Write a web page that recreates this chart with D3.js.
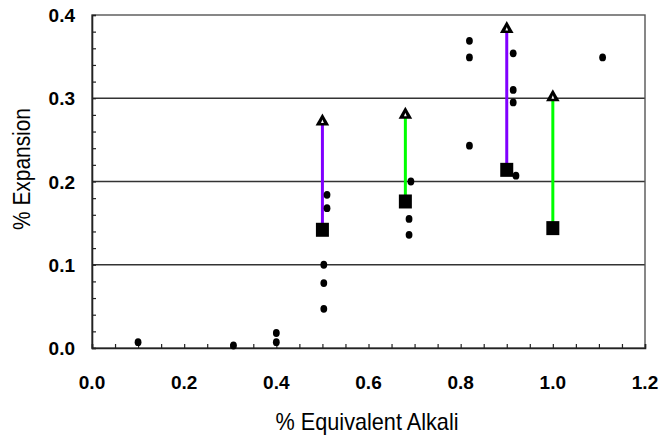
<!DOCTYPE html>
<html><head><meta charset="utf-8">
<script src="https://cdn.jsdelivr.net/npm/d3@7"></script>
<style>body{margin:0;background:#fff;} svg{display:block;}</style>
</head><body>
<svg id="c" width="670" height="435"></svg>
<script>
// Scatter points (circles)
const dotX = [0.10, 0.307, 0.40, 0.40, 0.503, 0.503, 0.503, 0.51, 0.51, 0.692, 0.688, 0.688, 0.819, 0.819, 0.819, 0.914, 0.914, 0.914, 0.92, 1.108];
const dotY = [0.007, 0.003, 0.018, 0.007, 0.100, 0.078, 0.047, 0.184, 0.168, 0.200, 0.155, 0.136, 0.369, 0.349, 0.243, 0.354, 0.310, 0.295, 0.207, 0.349];
// Paired measurements: square (low) -> triangle (high)
const pairX = [0.50, 0.68, 0.90, 1.00];
const pairLow = [0.142, 0.176, 0.214, 0.144];
const pairHigh = [0.274, 0.282, 0.385, 0.303];
const pairColor = ["#8000ff", "#00ff00", "#8000ff", "#00ff00"];
const xTicks = [0.0, 0.2, 0.4, 0.6, 0.8, 1.0, 1.2];
const yTicks = [0.0, 0.1, 0.2, 0.3, 0.4];
const gridY = [0.1, 0.2, 0.3];

const svg = d3.select("#c");
const L = 92, R = 645, T = 15, B = 348;
const x = d3.scaleLinear().domain([0, 1.2]).range([L, R]);
const y = d3.scaleLinear().domain([0, 0.4]).range([B, T]);
const FONT = "Liberation Sans, Arial, sans-serif";

// gridlines
svg.selectAll(".grid").data(gridY).enter().append("line")
  .attr("x1", L).attr("x2", R).attr("y1", d => y(d)).attr("y2", d => y(d))
  .attr("stroke", "#333").attr("stroke-width", 1.4);

// frame
svg.append("rect").attr("x", L).attr("y", T).attr("width", R - L).attr("height", B - T)
  .attr("fill", "none").attr("stroke", "#555").attr("stroke-width", 1.4);

// minor ticks
const xMinor = d3.range(0, 25).map(i => i * 0.05);
const xAxis = d3.axisBottom(x).tickValues(xMinor).tickSize(-4).tickFormat("");
svg.append("g").attr("transform", `translate(0,${B})`).call(xAxis)
  .call(g => { g.select(".domain").attr("stroke", "#222").attr("stroke-width", 1.6); g.selectAll("line").attr("stroke", "#222").attr("stroke-width", 1.2); });
const yMinor = d3.range(0, 21).map(i => i * 0.02);
const yAxis = d3.axisLeft(y).tickValues(yMinor).tickSize(-4).tickFormat("");
svg.append("g").attr("transform", `translate(${L},0)`).call(yAxis)
  .call(g => { g.select(".domain").attr("stroke", "#222").attr("stroke-width", 1.6); g.selectAll("line").attr("stroke", "#222").attr("stroke-width", 1.2); });

// tick labels
svg.selectAll(".xl").data(xTicks).enter().append("text")
  .attr("x", d => x(d)).attr("y", 389).attr("text-anchor", "middle")
  .attr("font-family", FONT).attr("font-weight", "bold").attr("font-size", 19)
  .text(d => d.toFixed(1));
svg.selectAll(".yl").data(yTicks).enter().append("text")
  .attr("x", 75).attr("y", d => y(d) + 7).attr("text-anchor", "end")
  .attr("font-family", FONT).attr("font-weight", "bold").attr("font-size", 19)
  .text(d => d.toFixed(1));

// axis titles (tall, slightly condensed)
svg.append("text").attr("x", 367).attr("y", 430).attr("text-anchor", "middle")
  .attr("font-family", FONT).attr("font-size", 24)
  .attr("textLength", 183).attr("lengthAdjust", "spacingAndGlyphs")
  .text("% Equivalent Alkali");
svg.append("text").attr("transform", "translate(30,169) rotate(-90)").attr("text-anchor", "middle")
  .attr("font-family", FONT).attr("font-size", 23)
  .attr("textLength", 122).attr("lengthAdjust", "spacingAndGlyphs")
  .text("% Expansion");

// pair lines
const pairs = pairX.map((v, i) => ({x: v, lo: pairLow[i], hi: pairHigh[i], c: pairColor[i]}));
svg.selectAll(".pl").data(pairs).enter().append("line")
  .attr("x1", d => x(d.x)).attr("x2", d => x(d.x))
  .attr("y1", d => y(d.lo)).attr("y2", d => y(d.hi))
  .attr("stroke", d => d.c).attr("stroke-width", 3);

// dots
const dots = dotX.map((v, i) => ({x: v, y: dotY[i]}));
svg.selectAll(".dot").data(dots).enter().append("ellipse")
  .attr("cx", d => x(d.x)).attr("cy", d => y(d.y)).attr("rx", 3.4).attr("ry", 3.9)
  .attr("fill", "#000");

// squares
svg.selectAll(".sq").data(pairs).enter().append("rect")
  .attr("x", d => x(d.x) - 6.5).attr("y", d => y(d.lo) - 7).attr("width", 13).attr("height", 14)
  .attr("fill", "#000");

// triangles
const tri = svg.selectAll(".tri").data(pairs).enter().append("g")
  .attr("transform", d => `translate(${x(d.x)},${y(d.hi)})`);
tri.append("path").attr("d", "M0,-6.5 L6.8,5.5 L-6.8,5.5 Z").attr("fill", "#000");
tri.append("path").attr("d", "M0,-0.5 L1.4,3 L-1.4,3 Z").attr("fill", "#fff");
</script>
</body></html>
